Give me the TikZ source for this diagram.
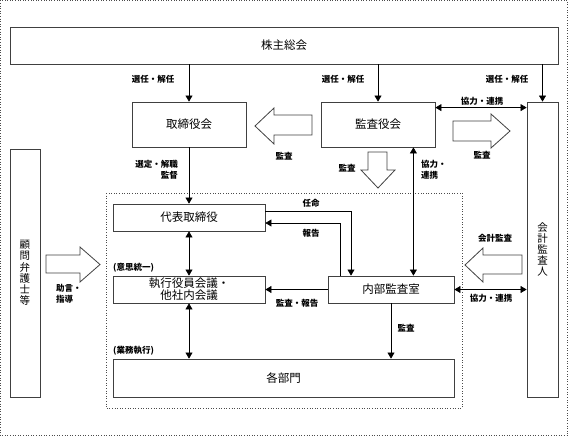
\documentclass[tikz,border=0pt]{standalone}
\usepackage{fontspec}
\setmainfont{Noto Sans CJK JP}
\usetikzlibrary{arrows.meta}

\tikzset{
  box/.style={draw=black!75,line width=0.8pt,fill=white,inner sep=0pt,
    font=\fontsize{11.5}{13}\selectfont},
  vbox/.style={box,align=center,font=\fontsize{10.5}{11.2}\selectfont},
  lab/.style={inner sep=0pt,font=\fontsize{8.5}{10.5}\selectfont\bfseries},
  arr/.style={-{Triangle[length=6pt,width=7pt]},line width=0.6pt},
  dbl/.style={{Triangle[length=6pt,width=7pt]}-{Triangle[length=6pt,width=7pt]},line width=0.6pt},
  hollow/.style={draw=black!75,line width=0.8pt,fill=white,line join=miter},
  frame/.style={draw=black!70,line width=0.6pt,dotted},
}

\begin{document}
\begin{tikzpicture}[x=1pt,y=-1pt]
   \useasboundingbox (0,0) rectangle (568,436);
   \draw[frame] (0.5,0.5) rectangle (567.5,435.5);
   \draw[frame] (106,193) rectangle (462,408);
   % boxes
   \node[box,minimum width=548pt,minimum height=37pt] (kabu) at (284,45.5) {株主総会};
   \node[box,minimum width=114pt,minimum height=45pt] (tori) at (189,124.5) {取締役会};
   \node[box,minimum width=114pt,minimum height=45pt] (kansa) at (378,124.5) {監査役会};
   \node[vbox,minimum width=31pt,minimum height=295pt] (kaikei) at (542.5,249.5) {会\\計\\監\\査\\人};
   \node[vbox,minimum width=30pt,minimum height=248pt] (komon) at (25,273) {顧\\問\\弁\\護\\士\\等};
   \node[box,minimum width=152pt,minimum height=27pt] (daihyo) at (189,217.5) {代表取締役};
   \node[box,minimum width=152pt,minimum height=27pt,align=center,
     font=\fontsize{11.5}{12}\selectfont] (shikko) at (189,289.5) {執行役員会議・\\他社内会議};
   \node[box,minimum width=126pt,minimum height=27pt] (naibu) at (391,289.5) {内部監査室};
   \node[box,minimum width=341pt,minimum height=38pt] (kakubu) at (283.5,378) {各部門};
   % hollow arrows
   \draw[hollow] (312,115) -- (274,115) -- (274,108) -- (255,126) -- (274,144) -- (274,135) -- (312,135) -- cycle;
   \draw[hollow] (453,121) -- (491,121) -- (491,114) -- (510,131) -- (491,148) -- (491,141) -- (453,141) -- cycle;
   \draw[hollow] (368,152) -- (368,170) -- (361,170) -- (378,188) -- (395,170) -- (387,170) -- (387,152) -- cycle;
   \draw[hollow] (46,255) -- (80,255) -- (80,247) -- (100,264.5) -- (80,282) -- (80,273) -- (46,273) -- cycle;
   \draw[hollow] (522,255) -- (483,255) -- (483,248) -- (465,265) -- (483,282) -- (483,274) -- (522,274) -- cycle;
   % connectors
   \draw[arr] (kabu.south -| tori.north) -- (tori.north);
   \draw[arr] (kabu.south -| kansa.north) -- (kansa.north);
   \draw[arr] (kabu.south -| kaikei.north) -- (kaikei.north);
   \draw[arr] (tori.south) -- (daihyo.north);
   \draw[dbl] (daihyo.south) -- (shikko.north);
   \draw[dbl] (shikko.south) -- (shikko.south |- kakubu.north);
   \coordinate (kr) at ([yshift=-6pt]kansa.north east);
   \draw[dbl] (kr) -- (kr -| kaikei.west);
   \coordinate (kd) at ([xshift=-22pt]kansa.south east);
   \draw[dbl] (kd) -- (kd |- naibu.north);
   \draw[dbl] (naibu.east) -- (naibu.east -| kaikei.west);
   \draw[arr] (naibu.west) -- (shikko.east);
   \draw[arr] (naibu.south) -- (naibu.south |- kakubu.north);
   \draw[arr] ([yshift=6.5pt]daihyo.east) -| ([xshift=-40pt]naibu.north);
   \draw[arr] ([xshift=-51pt]naibu.north) |- ([yshift=-5.5pt]daihyo.east);
   % labels
   \node[lab] (l1) at (153,79) {選任・解任};
   \node[lab] (l2) at (343,79) {選任・解任};
   \node[lab] (l3) at (507,79) {選任・解任};
   \node[lab] (l4) at (482,101) {協力・連携};
   \node[lab] (l5) at (284,156) {監査};
   \node[lab] (l6) at (482,155) {監査};
   \node[lab] (l7) at (347,168) {監査};
   \node[lab,anchor=west,align=left] (l8) at (421,170) {協力・\\連携};
   \node[lab,anchor=east,align=right] (l9) at (178,170) {選定・解職\\監督};
   \node[lab] (l10) at (311,203) {任命};
   \node[lab] (l11) at (311,233) {報告};
   \node[lab] (l12) at (495,238) {会計監査};
   \node[lab,anchor=west] (l13) at (113,268) {(意思統一)};
   \node[lab,anchor=west,align=left] (l14) at (56,294) {助言・\\指導};
   \node[lab] (l15) at (297,303) {監査・報告};
   \node[lab] (l16) at (491,298) {協力・連携};
   \node[lab,anchor=west] (l17) at (113,351) {(業務執行)};
   \node[lab] (l18) at (406,328) {監査};
\end{tikzpicture}
\end{document}
